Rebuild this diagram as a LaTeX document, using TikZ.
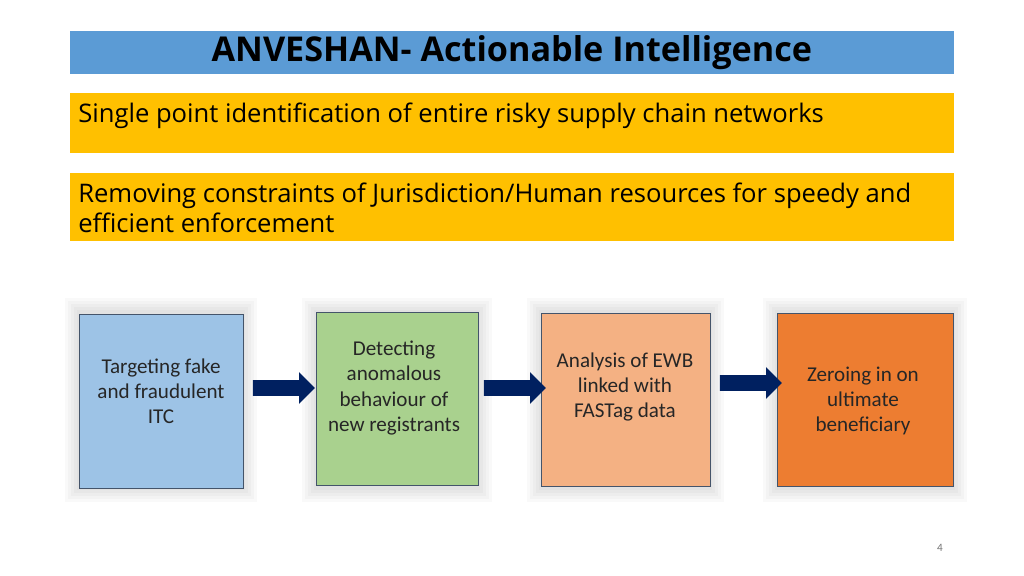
\documentclass[tikz,border=0pt]{standalone}
\usepackage{fontspec}
\setmainfont{Carlito}
\newfontfamily\headfont{Open Sans}
\usetikzlibrary{positioning,shapes.arrows}
\definecolor{TitleBlue}{RGB}{91,155,213}
\definecolor{BarGold}{RGB}{255,192,0}
\definecolor{StepBlue}{RGB}{157,195,230}
\definecolor{StepGreen}{RGB}{169,209,142}
\definecolor{StepPeach}{RGB}{244,177,131}
\definecolor{StepOrange}{RGB}{237,125,49}
\definecolor{StepEdge}{RGB}{68,84,106}
\definecolor{Navy}{RGB}{0,32,96}

\begin{document}
\begin{tikzpicture}
  [x=0.025cm,y=-0.025cm,
   bar/.style={rectangle,anchor=north west,inner sep=0pt,draw=none},
   stage/.style={rectangle,anchor=north west,inner sep=0pt,draw=StepEdge,thin},
   stagetext/.style={align=center,font=\fontsize{15}{17.8}\selectfont,text=black!85},
   flow/.style={single arrow,fill=Navy,draw=none,minimum height=1.55cm,
     single arrow head extend=0.2cm,inner xsep=0pt,inner ysep=0.19cm}]
  \useasboundingbox (0,0) rectangle (1024,575);

  % headline bars
  \node (title) [bar,fill=TitleBlue,minimum width=22.075cm,minimum height=1.075cm] at (70,31) {};
  \node at (title.center) {\headfont\bfseries\fontsize{24.3}{28}\selectfont ANVESHAN- Actionable Intelligence};
  \node (bar1) [bar,fill=BarGold,minimum width=22.075cm,minimum height=1.5cm] at (70,93) {};
  \node (bar1text) [anchor=north west,inner sep=0pt,font=\headfont\fontsize{18.2}{21}\selectfont] at (78,103) {Single point identification of entire risky supply chain networks};
  \node (bar2) [bar,fill=BarGold,minimum width=22.075cm,minimum height=1.7cm] at (70,173) {};
  \node (bar2text) [anchor=north west,inner sep=0pt,align=left,font=\headfont\fontsize{18.2}{21.3}\selectfont] at (78,183) {Removing constraints of Jurisdiction/Human resources for speedy and\\efficient enforcement};

  % soft shadows behind the stages
  \foreach \x/\w in {69/184,306/182,531/189,767/196}
    \foreach \d in {14,11,8,5,2}
      \fill[black,opacity=0.025] (\x-\d+10,302-\d+10) rectangle (\x+\w+\d-10,498+\d-10);

  % stages
  \node (s1) [stage,fill=StepBlue,minimum width=4.1cm,minimum height=4.35cm] at (79,314) {};
  \node (s2) [stage,fill=StepGreen,minimum width=4.05cm,minimum height=4.325cm] at (316,312) {};
  \node (s3) [stage,fill=StepPeach,minimum width=4.225cm,minimum height=4.325cm] at (541,313) {};
  \node (s4) [stage,fill=StepOrange,minimum width=4.4cm,minimum height=4.325cm] at (777,313) {};
  \node [stagetext] at (161,391) {Targeting fake\\and fraudulent\\ITC};
  \node [stagetext] at (394,388) {Detecting\\anomalous\\behaviour of\\new registrants};
  \node [stagetext] at (625,387) {Analysis of EWB\\linked with\\FASTag data};
  \node [stagetext] at (863,401) {Zeroing in on\\ultimate\\beneficiary};

  % arrows between stages
  \node (a1) [flow] at (280,388) {};
  \node (a2) [flow] at (511,388) {};
  \node (a3) [flow] at (747,383) {};

  \node (pagenum) [text=black!55,font=\fontsize{8}{10}\selectfont] at (940,548) {4};
\end{tikzpicture}
\end{document}
